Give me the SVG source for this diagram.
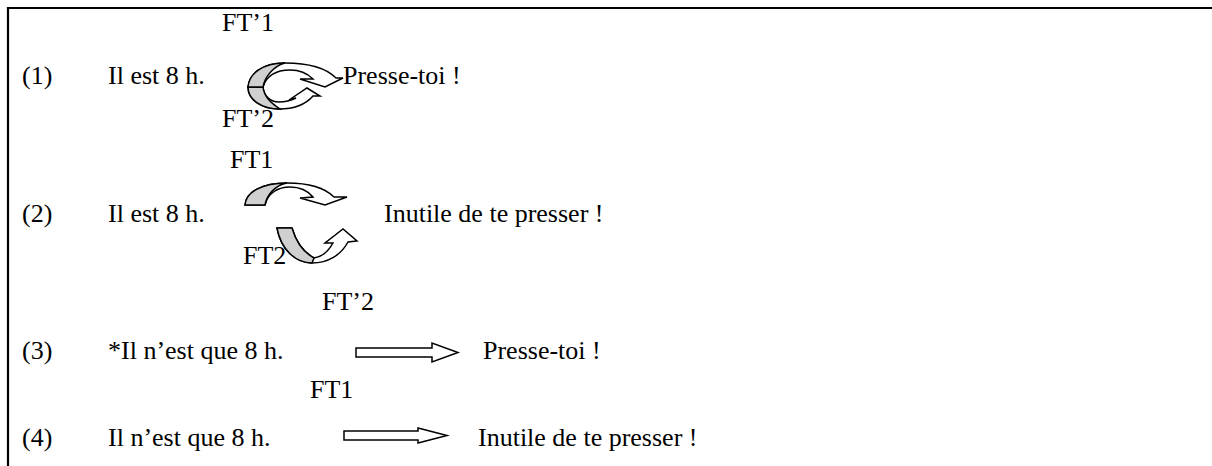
<svg xmlns="http://www.w3.org/2000/svg" width="1212" height="466" viewBox="0 0 1212 466">
<style>
text{font-family:"Liberation Serif","Times New Roman",serif;font-size:26px;fill:#000}
.a{fill:#fff;stroke:#000;stroke-width:1.5;stroke-linejoin:miter}
.g{fill:#d0d0d0;stroke:#000;stroke-width:1.5}
.frame{fill:none;stroke:#000;stroke-width:2.2}
</style>
<rect width="1212" height="466" fill="#fff"/>
<path class="frame" d="M8,466 V8 H1212"/>
<g id="row1">
<text x="22" y="84">(1)</text>
<text x="108" y="84">Il est 8 h.</text>
<text x="222" y="31">FT’1</text>
<text x="343" y="84">Presse-toi !</text>
<text x="222" y="127">FT’2</text>
</g>
<g id="row2">
<text x="22" y="222">(2)</text>
<text x="108" y="222">Il est 8 h.</text>
<text x="230" y="168">FT1</text>
<text x="384" y="222">Inutile de te presser !</text>
<text x="243" y="264">FT2</text>
</g>
<g id="row3">
<text x="22" y="359">(3)</text>
<text x="108" y="359">*Il n’est que 8 h.</text>
<text x="322" y="310">FT’2</text>
<text x="483" y="359">Presse-toi !</text>
</g>
<g id="row4">
<text x="22" y="446">(4)</text>
<text x="108" y="446">Il n’est que 8 h.</text>
<text x="310" y="398">FT1</text>
<text x="478" y="446">Inutile de te presser !</text>
</g>
<g id="connectors">
<path class="a" d="M263,87 C264,96 270,102 279,102 C286,102 292,100 296,98 L289,100 L307,88 L320,96 L313,96 C306,104 294,109 279,109 C262,109 248,100 248,87 Z"/>
<path class="g" d="M248,87 L263,87 C264,97 271,103 280,109 C262,109 248,100 248,87 Z"/>
<path class="a" d="M263,87 C266,76 276,70 290,70 C300,70 308,74 313,79 L300,79 L325,87 L343,78 L336,78 C328,70 312,63 285,63 C262,63 249,74 248,87 Z"/>
<path class="g" d="M248,87 C249,74 262,63 285,63 C274,66 265,76 263,87 Z"/>
<path class="a" d="M265,205 C268,193 278,187 290,187 C300,187 308,191 313,197 L300,198 L325,205 L347,197 L334,197 C326,189 310,183 287,183 C262,183 246,192 245,205 Z"/>
<path class="g" d="M245,205 C246,192 262,183 287,183 C276,185 267,194 265,205 Z"/>
<path class="a" d="M277,228 C281,250 296,263 312,263 C328,263 341,255 348,242 L357,241 L343,229 L325,243 L333,243 C328,252 321,257 314,258 C303,252 296,242 292,228 Z"/>
<path class="g" d="M277,228 L292,228 C296,242 303,252 314,258 L312,263 C296,263 281,250 277,228 Z"/>
<path class="a" d="M356,348 H432 V343 L458,352.5 L432,362 V357 H356 Z"/>
<path class="a" d="M344,431 H418 V428 L447,435.5 L418,443 V440 H344 Z"/>
</g>
</svg>
